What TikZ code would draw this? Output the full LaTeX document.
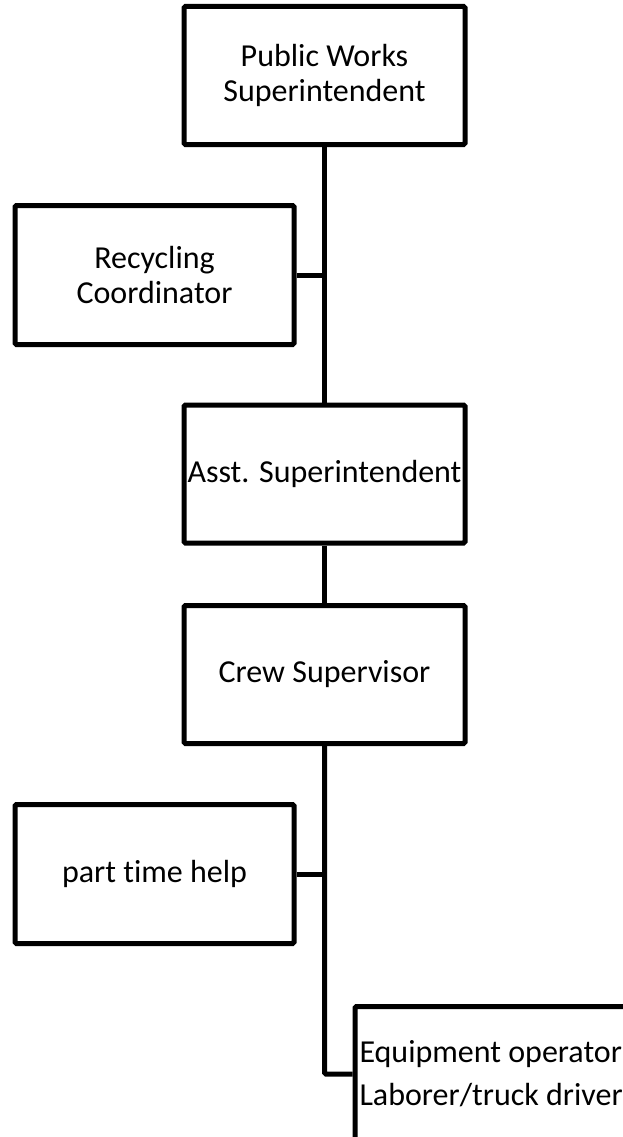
\documentclass[tikz,border=0pt]{standalone}
\usepackage{fontspec}
\setmainfont{Carlito}[Ligatures=NoCommon]
\usetikzlibrary{positioning}

\begin{document}
\begin{tikzpicture}[x=1pt,y=-1pt,line width=5pt,rounded corners=1.5pt,
  orgbox/.style={draw,rectangle,align=center,inner sep=0pt,
    minimum width=281pt,minimum height=138pt,font=\fontsize{32}{35}\selectfont},
  sidebox/.style={orgbox,minimum width=279pt,minimum height=139pt},
  staffline/.style={anchor=base west,inner sep=0pt,font=\fontsize{32}{35}\selectfont}]

\clip (0,0) rectangle (623,1137);
\useasboundingbox (0,0) rectangle (623,1137);

\node [orgbox] at (324.5,75.5) (pws) {Public Works\\Superintendent};
\node [sidebox] at (154.5,275) (rc) {Recycling\\Coordinator};
\node [orgbox] at (324.5,474) (asst) {Asst. Superintendent};
\node [orgbox] at (324.5,674.5) (crew) {Crew Supervisor};
\node [sidebox] at (154.5,874) (pth) {part time help};
\node [draw,rectangle,anchor=north west,minimum width=400pt,minimum height=250pt] at (352.5,1004) (staff) {};
\node [staffline] at (357,1062) (equip) {Equipment operator};
\node [staffline] at (357,1105) (laborer) {Laborer/truck driver};

\coordinate (join) at (324.5,1074);

\draw (pws.south) -- (asst.north);
\draw (rc.east) -- (rc.east -| pws.south);
\draw (asst.south) -- (crew.north);
\draw (crew.south) -- (join) -- (join -| staff.west);
\draw (pth.east) -- (pth.east -| crew.south);

\end{tikzpicture}
\end{document}
